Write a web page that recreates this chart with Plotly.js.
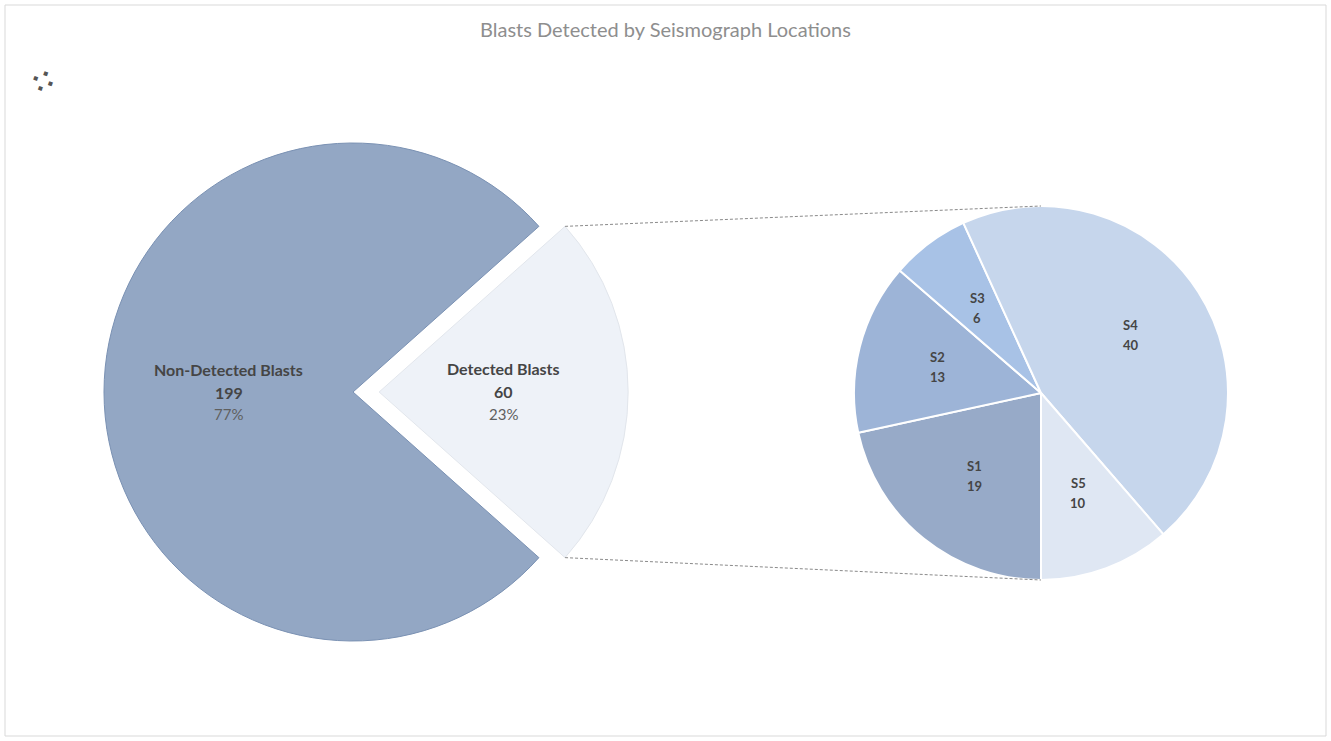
<!DOCTYPE html>
<html>
<head>
<meta charset="utf-8">
<script src="https://cdn.plot.ly/plotly-3.0.1.min.js"></script>
<style>
  html, body { margin: 0; padding: 0; background: #ffffff; }
  #chart { width: 1331px; height: 741px; }
</style>
</head>
<body>
<div id="chart"></div>
<script>
// Blasts overall: detected vs. not detected
const mainLabels = ['Non-Detected Blasts', 'Detected Blasts'];
const mainValues = [199, 60];
const mainColors = ['#93a7c4', '#eef2f8'];
const mainEdges = ['#7a91b3', '#e2e6ec'];

// Detected blasts broken down by seismograph location
const locLabels = ['S1', 'S2', 'S3', 'S4', 'S5'];
const locValues = [19, 13, 6, 40, 10];
const locColors = ['#97aac8', '#9db4d7', '#a8c2e6', '#c6d6ec', '#dfe7f3'];

const chartTitle = 'Blasts Detected by Seismograph Locations';

// ---- layout geometry (pixels) ----
const W = 1331, H = 741;
const main = { cx: 353, cy: 392, r: 249, pull: 0.105 };
const sub = { cx: 1041, cy: 393, r: 187 };

const detIdx = 1;
const mainTotal = mainValues.reduce((a, b) => a + b, 0);
const detFrac = mainValues[detIdx] / mainTotal;
// first slice (non-detected) starts right after the detected wedge, which is centred at 3 o'clock
const mainRotation = 90 + detFrac * 180;
const subRotation = 180;

function domainFor(cx, cy, half) {
  return {
    x: [(cx - half) / W, (cx + half) / W],
    y: [1 - (cy + half) / H, 1 - (cy - half) / H]
  };
}
const px2x = px => px / W;
const px2y = py => 1 - py / H;

// clockwise angle from 12 o'clock -> offset in pixels
function polar(angleDeg, rad) {
  const a = angleDeg * Math.PI / 180;
  return [rad * Math.sin(a), -rad * Math.cos(a)];
}

// mid angles of slices (clockwise from 12 o'clock)
function midAngles(values, rotation) {
  const tot = values.reduce((a, b) => a + b, 0);
  let acc = 0;
  return values.map(v => {
    const m = rotation + (acc + v / 2) / tot * 360;
    acc += v;
    return m;
  });
}

const mainTrace = {
  type: 'pie',
  labels: mainLabels,
  values: mainValues,
  sort: false,
  direction: 'clockwise',
  rotation: mainRotation,
  pull: mainLabels.map((_, i) => i === detIdx ? main.pull : 0),
  marker: { colors: mainColors, line: { color: mainEdges, width: 1 } },
  textinfo: 'none',
  hoverinfo: 'label+value+percent',
  showlegend: false,
  domain: domainFor(main.cx, main.cy, main.r * (1 + main.pull))
};

const subTrace = {
  type: 'pie',
  labels: locLabels,
  values: locValues,
  sort: false,
  direction: 'clockwise',
  rotation: subRotation,
  marker: { colors: locColors, line: { color: '#ffffff', width: 2 } },
  textinfo: 'none',
  hoverinfo: 'label+value',
  showlegend: false,
  domain: domainFor(sub.cx, sub.cy, sub.r)
};

const textFont = 'Lato, "Open Sans", sans-serif';
const annotations = [];

function addLine(xp, yp, text, shift, font) {
  annotations.push({
    xref: 'paper', yref: 'paper', x: px2x(xp), y: px2y(yp),
    xanchor: 'center', yanchor: 'middle', yshift: shift,
    text: text, showarrow: false, font: font
  });
}

// labels on the main pie
const mainMids = midAngles(mainValues, mainRotation);
mainValues.forEach((v, i) => {
  const pullOff = i === detIdx ? polar(mainMids[i], main.pull * main.r) : [0, 0];
  const off = polar(mainMids[i], 0.5 * main.r);
  const x = main.cx + pullOff[0] + off[0];
  const y = main.cy + pullOff[1] + off[1];
  const pct = Math.round(v / mainTotal * 100) + '%';
  addLine(x, y, '<b>' + mainLabels[i] + '</b>', 23, { family: textFont, size: 16, color: '#454545' });
  addLine(x, y, '<b>' + v + '</b>', 0, { family: textFont, size: 16, color: '#454545' });
  addLine(x, y, pct, -22, { family: textFont, size: 15, color: '#5f5f5f' });
});

// labels on the location pie
const subMids = midAngles(locValues, subRotation);
locValues.forEach((v, i) => {
  const off = polar(subMids[i], 0.57 * sub.r);
  const x = sub.cx + off[0], y = sub.cy + off[1];
  addLine(x, y, '<b>' + locLabels[i] + '</b>', 10, { family: textFont, size: 13, color: '#454545' });
  addLine(x, y, '<b>' + v + '</b>', -10, { family: textFont, size: 13, color: '#454545' });
});

// small cursor glyph near the top-left corner
annotations.push({
  xref: 'paper', yref: 'paper', x: px2x(43), y: px2y(82),
  xanchor: 'center', yanchor: 'middle', text: '⁘', showarrow: false,
  textangle: 20,
  font: { family: 'DejaVu Sans', size: 40, color: '#555555' }
});

// connector lines from the detected wedge to the top / bottom of the location pie
const detStart = mainRotation + (1 - detFrac) * 360;   // detected wedge start angle
const detEnd = detStart + detFrac * 360;
const apex = polar(mainMids[detIdx], main.pull * main.r);
const cTop = polar(detStart, main.r);
const cBot = polar(detEnd, main.r);
const lineStyle = { color: '#8a8a8a', width: 1, dash: '3px,2px' };
const shapes = [
  {
    type: 'line', xref: 'paper', yref: 'paper',
    x0: px2x(main.cx + apex[0] + cTop[0]), y0: px2y(main.cy + apex[1] + cTop[1]),
    x1: px2x(sub.cx), y1: px2y(sub.cy - sub.r), line: lineStyle
  },
  {
    type: 'line', xref: 'paper', yref: 'paper',
    x0: px2x(main.cx + apex[0] + cBot[0]), y0: px2y(main.cy + apex[1] + cBot[1]),
    x1: px2x(sub.cx), y1: px2y(sub.cy + sub.r), line: lineStyle
  },
  // chart frame
  {
    type: 'rect', xref: 'paper', yref: 'paper', layer: 'below',
    x0: px2x(5), x1: px2x(1326), y0: px2y(736), y1: px2y(5),
    line: { color: '#d9d9d9', width: 1 }, fillcolor: 'rgba(0,0,0,0)'
  }
];

const layout = {
  width: W, height: H,
  margin: { l: 0, r: 0, t: 0, b: 0 },
  paper_bgcolor: '#ffffff',
  title: {
    text: chartTitle,
    x: 0.5, xanchor: 'center', xref: 'paper',
    y: 1 - 30 / H, yanchor: 'middle', yref: 'container',
    font: { family: textFont, size: 20, color: '#8e8e8e' }
  },
  showlegend: false,
  annotations: annotations,
  shapes: shapes
};

Plotly.newPlot('chart', [mainTrace, subTrace], layout, { displayModeBar: false, responsive: false });
</script>
</body>
</html>
